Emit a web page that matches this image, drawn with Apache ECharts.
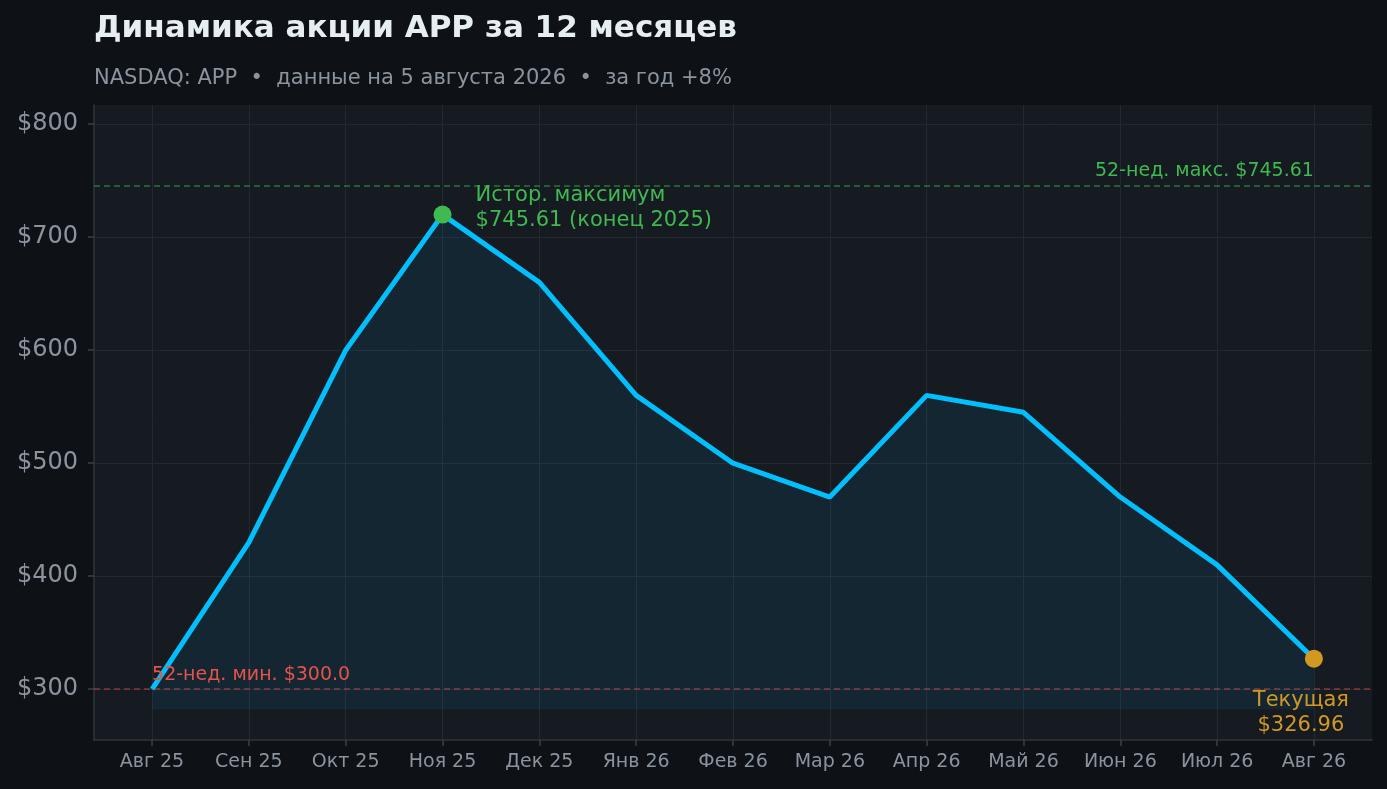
<!DOCTYPE html>
<html><head><meta charset="utf-8">
<script src="https://cdn.jsdelivr.net/npm/echarts@6/dist/echarts.min.js"></script>
<style>html,body{margin:0;padding:0;background:#0e1217;}#c{width:1387px;height:789px;}</style>
</head><body><div id="c"></div>
<script>
const categories = ['Авг 25','Сен 25','Окт 25','Ноя 25','Дек 25','Янв 26','Фев 26','Мар 26','Апр 26','Май 26','Июн 26','Июл 26','Авг 26'];
const prices = [300, 430, 600, 720, 660, 560, 500, 470, 560, 545, 470, 410, 326.96];
const high52 = 745.61;
const low52 = 300.0;
const peakIndex = 3;
const yTickMin = 300, yTickMax = 800, yTickStep = 100;
const fillBase = 282;

const FONT = 'DejaVu Sans';
const data = prices.map((v, i) => [i, v]);
const last = prices.length - 1;
const GRID_COLOR = '#232833';
const AXIS_COLOR = '#30363d';
const TEXT_GRAY = '#8b949e';

// Data scale extents (padding around the data as in the reference)
const xMin = -0.6, xMax = last + 0.6;
const yMin = 255, yMax = 817;

// Plot area in pixels
const P = {left: 94, right: 15, top: 105, bottom: 49};
const plotW = 1387 - P.left - P.right, plotH = 789 - P.top - P.bottom;
const xPx = v => P.left + (v - xMin) / (xMax - xMin) * plotW;
const yPx = v => P.top + (yMax - v) / (yMax - yMin) * plotH;

const chart = echarts.init(document.getElementById('c'), null, {renderer: 'canvas'});
chart.setOption({
  backgroundColor: '#0e1217',
  animation: false,
  title: [
    {text: 'Динамика акции APP за 12 месяцев', left: 89, top: 8,
     textStyle: {color: '#e6edf3', fontFamily: FONT, fontSize: 31, fontWeight: 'bold'}},
    {text: 'NASDAQ: APP  •  данные на 5 августа 2026  •  за год +8%', left: 89, top: 63,
     textStyle: {color: TEXT_GRAY, fontFamily: FONT, fontSize: 21, fontWeight: 'normal'}}
  ],
  grid: [
    {left: P.left, right: P.right, top: P.top, bottom: P.bottom, show: true, backgroundColor: '#161a21', borderWidth: 0},
    {left: Math.round(xPx(0)), right: 1387 - Math.round(xPx(last)), top: P.top, bottom: P.bottom, show: false},
    {left: P.left, right: P.right, top: Math.round(yPx(yTickMax)), bottom: 789 - Math.round(yPx(yTickMin)), show: false}
  ],
  xAxis: [
    {gridIndex: 0, type: 'value', min: xMin, max: xMax,
     axisLine: {show: true, onZero: false, lineStyle: {color: AXIS_COLOR, width: 1.5}},
     axisTick: {show: false}, axisLabel: {show: false}, splitLine: {show: false}},
    {gridIndex: 1, type: 'category', data: categories, boundaryGap: false,
     axisLine: {show: false, onZero: false},
     axisTick: {show: true, length: 6, alignWithLabel: true, lineStyle: {color: '#3a4049', width: 1.5}},
     axisLabel: {color: TEXT_GRAY, fontFamily: FONT, fontSize: 19, margin: 13, interval: 0},
     splitLine: {show: true, interval: 0, lineStyle: {color: GRID_COLOR, width: 1}}},
    {gridIndex: 2, type: 'value', min: 0, max: 1, show: false}
  ],
  yAxis: [
    {gridIndex: 0, type: 'value', min: yMin, max: yMax,
     axisLine: {show: true, onZero: false, lineStyle: {color: AXIS_COLOR, width: 1.5}},
     axisTick: {show: false}, axisLabel: {show: false}, splitLine: {show: false}},
    {gridIndex: 1, type: 'value', min: 0, max: 1, show: false},
    {gridIndex: 2, type: 'value', min: yTickMin, max: yTickMax, interval: yTickStep,
     axisLine: {show: false, onZero: false},
     axisTick: {show: true, length: 6, lineStyle: {color: '#3a4049', width: 1.5}},
     axisLabel: {color: TEXT_GRAY, fontFamily: FONT, fontSize: 24, margin: 16, padding: [5, 0, 0, 0],
       formatter: v => '$' + v},
     splitLine: {show: true, lineStyle: {color: GRID_COLOR, width: 1}}}
  ],
  series: [
    {
      type: 'line', xAxisIndex: 0, yAxisIndex: 0, data: data, symbol: 'none',
      lineStyle: {color: '#00bfff', width: 5},
      areaStyle: {color: 'rgba(0,191,255,0.11)', origin: fillBase},
      z: 3,
      markLine: {
        silent: true, symbol: 'none',
        label: {show: false},
        data: [
          {yAxis: high52, lineStyle: {color: 'rgba(63,185,80,0.55)', type: [6, 4], width: 1.5}},
          {yAxis: low52, lineStyle: {color: 'rgba(248,81,73,0.5)', type: [6, 4], width: 1.5}}
        ]
      }
    },
    {
      type: 'scatter', xAxisIndex: 0, yAxisIndex: 0, symbolSize: 0, z: 5, silent: true,
      itemStyle: {opacity: 1},
      data: [
        {value: [last, high52], label: {show: true, formatter: '52-нед. макс. $' + high52.toFixed(2),
          position: 'left', align: 'right', verticalAlign: 'bottom', offset: [5, -5],
          color: '#3fb950', fontFamily: FONT, fontSize: 19}},
        {value: [0, low52], label: {show: true, formatter: '52-нед. мин. $' + low52.toFixed(1),
          position: 'right', align: 'left', verticalAlign: 'bottom', offset: [-5, -5],
          color: '#e5534b', fontFamily: FONT, fontSize: 19}}
      ]
    },
    {
      type: 'scatter', xAxisIndex: 0, yAxisIndex: 0, symbolSize: 18, z: 6, silent: true,
      itemStyle: {opacity: 1},
      data: [
        {value: [peakIndex, prices[peakIndex]], itemStyle: {color: '#3fb950', opacity: 1},
          label: {show: true, formatter: 'Истор. максимум\n$745.61 (конец 2025)', position: 'right',
            align: 'left', verticalAlign: 'middle', offset: [19, -7], lineHeight: 25,
            color: '#3fb950', fontFamily: FONT, fontSize: 21}},
        {value: [last, prices[last]], itemStyle: {color: '#d29922', opacity: 1},
          label: {show: true, formatter: 'Текущая\n$' + prices[last].toFixed(2), position: 'bottom',
            align: 'center', verticalAlign: 'top', offset: [-13, 15], lineHeight: 25,
            color: '#d29922', fontFamily: FONT, fontSize: 21}}
      ]
    }
  ]
});
</script></body></html>
